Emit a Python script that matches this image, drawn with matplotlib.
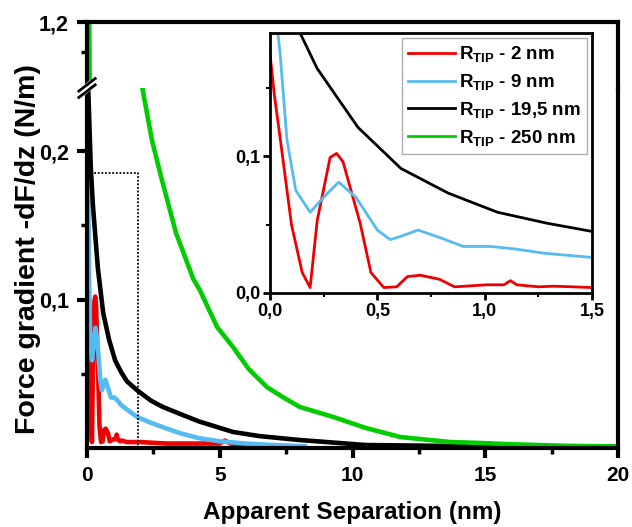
import matplotlib
matplotlib.use("Agg")
import matplotlib.pyplot as plt
from matplotlib.ticker import FixedLocator, FuncFormatter

plt.rcParams['font.family'] = ['Liberation Sans', 'DejaVu Sans']
plt.rcParams['font.weight'] = 'bold'
plt.rcParams['mathtext.fontset'] = 'custom'
plt.rcParams['mathtext.rm'] = 'Liberation Sans:bold'
plt.rcParams['mathtext.bf'] = 'Liberation Sans:bold'
plt.rcParams['mathtext.default'] = 'bf'

# data (separation in nm, force gradient in N/m)
red_x = [0.0, 0.02, 0.05, 0.1, 0.15, 0.187, 0.22, 0.28, 0.31, 0.34, 0.42, 0.47, 0.53, 0.59,
         0.64, 0.70, 0.79, 0.86, 1.01, 1.09, 1.12, 1.15, 1.25, 1.32, 1.5, 2.0, 2.5, 3.0, 4.0,
         5.0, 5.2, 5.4, 6.0, 6.5]
red_y = [0.175, 0.145, 0.11, 0.05, 0.015, 0.004, 0.053, 0.099, 0.102, 0.096, 0.051, 0.015,
         0.004, 0.0045, 0.012, 0.013, 0.010, 0.0045, 0.006, 0.006, 0.009, 0.006, 0.0045, 0.005,
         0.004, 0.004, 0.0035, 0.003, 0.003, 0.003, 0.005, 0.003, 0.002, 0.002]

blue_x = [0.0, 0.03, 0.047, 0.079, 0.12, 0.187, 0.25, 0.32, 0.4, 0.5, 0.56, 0.62, 0.69, 0.8,
          0.9, 1.03, 1.15, 1.28, 1.5, 1.88, 2.4, 2.86, 3.5, 4.2, 5.0, 6.0, 7.0, 8.2]
blue_y = [0.26, 0.2, 0.175, 0.112, 0.075, 0.059, 0.070, 0.081, 0.070, 0.046, 0.039, 0.042,
          0.046, 0.040, 0.034, 0.034, 0.032, 0.029, 0.026, 0.021, 0.017, 0.014, 0.010, 0.0067,
          0.0045, 0.003, 0.002, 0.0012]

black_x = [0.0, 0.05, 0.14, 0.22, 0.41, 0.61, 0.83, 1.06, 1.29, 1.5, 1.88, 2.4, 2.86, 3.5,
           4.2, 5.5, 6.5, 8.0, 10.5, 13, 16, 20]
black_y = [0.32, 0.24, 0.19, 0.164, 0.121, 0.091, 0.073, 0.059, 0.051, 0.045, 0.039, 0.032,
           0.0276, 0.023, 0.018, 0.0108, 0.008, 0.0054, 0.002, 0.0015, 0.001, 0.001]

green_x = [0.0, 0.08, 0.1, 0.5, 1.0, 1.5, 2.11, 2.45, 2.8, 3.35, 4.0, 4.26, 4.9, 5.5, 6.1,
           6.78, 7.4, 8.02, 9.28, 10.5, 11.8, 12.9, 13.7, 14.8, 16, 18, 20]
green_y = [1.6, 1.25, 0.98, 0.6, 0.42, 0.31, 0.240, 0.207, 0.182, 0.145, 0.114, 0.106, 0.0815,
           0.068, 0.053, 0.041, 0.034, 0.0276, 0.0209, 0.0135, 0.0074, 0.0054, 0.004, 0.0034,
           0.0025, 0.0015, 0.001]

labels = ["R$_{TIP}$ - 2 nm", "R$_{TIP}$ - 9 nm", "R$_{TIP}$ - 19,5 nm", "R$_{TIP}$ - 250 nm"]
colors = ["#ee0000", "#55bbf0", "black", "#00cc00"]
series = [(red_x, red_y), (blue_x, blue_y), (black_x, black_y), (green_x, green_y)]

comma = FuncFormatter(lambda v, p: f"{v:.1f}".replace(".", ","))

fig = plt.figure(figsize=(6.32, 5.27), dpi=100)
W, H = 632, 527
left, right, top, brk, bottom = 87, 618, 22, 88, 448
ax_lo = fig.add_axes([left / W, (H - bottom) / H, (right - left) / W, (bottom - brk) / H])
ax_hi = fig.add_axes([left / W, (H - brk) / H, (right - left) / W, (brk - top) / H])

for ax in (ax_lo, ax_hi):
    for (x, y), c in zip(series, colors):
        ax.plot(x, y, color=c, lw=3.3)
    ax.set_xlim(0, 20)
    for s in ax.spines.values():
        s.set_linewidth(3)
    ax.tick_params(which='major', direction='out', length=7, width=3, pad=6)
    ax.tick_params(axis='x', labelsize=15)
    ax.tick_params(axis='y', labelsize=15.5)
    ax.tick_params(which='minor', direction='out', length=4, width=2.5)

ax_lo.set_ylim(0, 0.2425)
ax_hi.set_ylim(0.98, 1.2)
ax_lo.spines['top'].set_visible(False)
ax_hi.spines['bottom'].set_visible(False)
ax_hi.tick_params(axis='x', which='both', bottom=False, labelbottom=False)

ax_lo.xaxis.set_major_locator(FixedLocator([0, 5, 10, 15, 20]))
ax_lo.xaxis.set_minor_locator(FixedLocator([2.5, 7.5, 12.5, 17.5]))
ax_lo.yaxis.set_major_locator(FixedLocator([0.1, 0.2]))
ax_lo.yaxis.set_minor_locator(FixedLocator([0.05, 0.15]))
ax_lo.yaxis.set_major_formatter(comma)
ax_hi.yaxis.set_major_locator(FixedLocator([1.2]))
ax_hi.yaxis.set_minor_locator(FixedLocator([1.1]))
ax_hi.yaxis.set_major_formatter(comma)

# dotted box marking the zoomed region
ax_lo.plot([0, 1.92, 1.92], [0.185, 0.185, 0], color='black', lw=1.3, ls=(0, (1, 1)))

# axis break marks on the left spine
bx = left / W
by = (H - brk) / H
fig.add_artist(plt.Line2D([bx - 0.004, bx + 0.004], [by - 0.004, by + 0.004],
                          color='white', lw=6))
for d in (-0.006, 0.006):
    fig.add_artist(plt.Line2D([bx - 0.013, bx + 0.013], [by + d - 0.012, by + d + 0.012],
                              color='black', lw=2))

fig.text(352 / W, (H - 512) / H, "Apparent Separation (nm)", fontsize=17.5,
         fontweight='bold', ha='center', va='center')
fig.text(28 / W, (H - 249) / H, "Force gradient -dF/dz (N/m)", rotation=90, fontsize=20.5,
         fontweight='bold', ha='center', va='center')

# inset
il, ir, it, ib = 270, 592, 33, 293
axin = fig.add_axes([il / W, (H - ib) / H, (ir - il) / W, (ib - it) / H])
for (x, y), c, lab in zip(series, colors, labels):
    axin.plot(x, y, color=c, lw=2, label=lab)
axin.set_xlim(0, 1.5)
axin.set_ylim(0, 0.19)
axin.xaxis.set_major_locator(FixedLocator([0, 0.5, 1.0, 1.5]))
axin.xaxis.set_minor_locator(FixedLocator([0.25, 0.75, 1.25]))
axin.yaxis.set_major_locator(FixedLocator([0, 0.1]))
axin.yaxis.set_minor_locator(FixedLocator([0.05, 0.15]))
axin.xaxis.set_major_formatter(comma)
axin.yaxis.set_major_formatter(comma)
for s in axin.spines.values():
    s.set_linewidth(2)
axin.tick_params(which='major', direction='out', length=5, width=2, labelsize=13, pad=2)
axin.tick_params(which='minor', direction='out', length=3, width=1.5)
leg = axin.legend(loc='upper right', fontsize=13.5, frameon=True, fancybox=False,
                  edgecolor='#999999', handlelength=2.5, handletextpad=0.2,
                  borderaxespad=0.25, labelspacing=0.42, borderpad=0.35)
leg.get_frame().set_linewidth(1)

fig.savefig("out.png", dpi=100)
